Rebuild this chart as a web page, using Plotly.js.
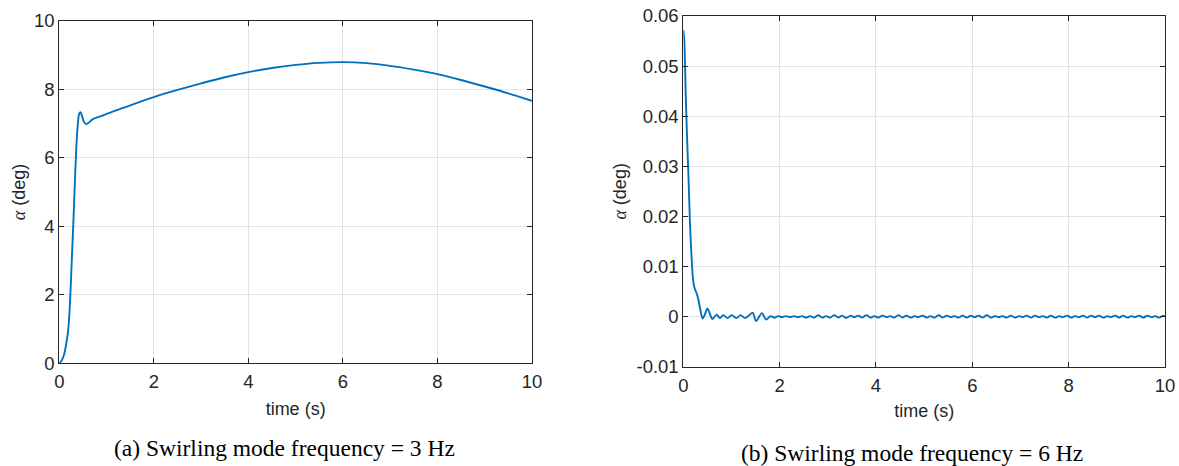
<!DOCTYPE html>
<html>
<head>
<meta charset="utf-8">
<script src="https://cdn.plot.ly/plotly-3.0.1.min.js"></script>
<style>html,body{margin:0;padding:0;background:#fff}#plot{width:1179px;height:466px}</style>
</head>
<body>
<div id="plot"></div>
<script>
// (a) Swirling mode frequency = 3 Hz
const timeA = [0, 0.05, 0.10, 0.15, 0.19, 0.22, 0.24, 0.27, 0.30, 0.33, 0.36, 0.39, 0.42, 0.45, 0.48, 0.52, 0.57, 0.62, 0.70, 0.80, 0.90, 1.0, 1.5, 2.0, 2.5, 3.0, 3.5, 4.0, 4.5, 5.0, 5.5, 6.0, 6.5, 7.0, 7.5, 8.0, 8.5, 9.0, 9.5, 10];
const alphaA = [0, 0.08, 0.25, 0.6, 1.0, 1.6, 2.2, 3.2, 4.2, 5.3, 6.3, 6.95, 7.28, 7.33, 7.22, 7.05, 6.98, 7.02, 7.12, 7.18, 7.22, 7.28, 7.53, 7.77, 7.98, 8.17, 8.35, 8.50, 8.62, 8.71, 8.77, 8.79, 8.76, 8.68, 8.57, 8.44, 8.27, 8.08, 7.88, 7.66];

// (b) Swirling mode frequency = 6 Hz
const timeB = [0, 0.02, 0.05, 0.08, 0.11, 0.14, 0.17, 0.20, 0.23, 0.27, 0.31, 0.35, 0.40, 0.45, 0.50, 0.55, 0.60, 0.69, 0.76, 0.83, 0.92, 1.00, 1.10, 1.19, 1.28, 1.36, 1.44, 1.51, 1.63, 1.72, 1.81, 1.89,
  1.97, 2.05, 2.13, 2.22, 2.30, 2.38, 2.47, 2.55, 2.63, 2.72, 2.80, 2.88, 2.97, 3.05, 3.13, 3.22, 3.30, 3.38, 3.47, 3.55, 3.63, 3.72, 3.80, 3.88, 3.97,
  4.05, 4.13, 4.22, 4.30, 4.38, 4.47, 4.55, 4.63, 4.72, 4.80, 4.88, 4.97, 5.05, 5.13, 5.22, 5.30, 5.38, 5.47, 5.55, 5.63, 5.72, 5.80, 5.88, 5.97,
  6.05, 6.13, 6.22, 6.30, 6.38, 6.47, 6.55, 6.63, 6.72, 6.80, 6.88, 6.97, 7.05, 7.13, 7.22, 7.30, 7.38, 7.47, 7.55, 7.63, 7.72, 7.80, 7.88, 7.97,
  8.05, 8.13, 8.22, 8.30, 8.38, 8.47, 8.55, 8.63, 8.72, 8.80, 8.88, 8.97, 9.05, 9.13, 9.22, 9.30, 9.38, 9.47, 9.55, 9.63, 9.72, 9.80, 9.88, 9.97, 10.0];
const alphaB = [0.0572, 0.0550, 0.0440, 0.0350, 0.0270, 0.0180, 0.0120, 0.0075, 0.0058, 0.0048, 0.0035, 0.0015, -0.0004, 0.0005, 0.0016, 0.0006, -0.0005, 0.0004, -0.0003, 0.0003, -0.0003, 0.0003, -0.0003, 0.0003, -0.0003, 0.0002, 0.0008, -0.0009, 0.0007, -0.0006, 0.0001, -0.0002,
  0.0001, -0.0001, 0.0001, -0.0001, 0.0001, -0.0001, 0.0001, -0.0002, 0.0001, -0.0002, 0.0003, -0.0002, 0.0001, -0.0002, 0.0003, -0.0002, 0.0002, -0.0003, 0.0002, -0.0001, 0.0002, -0.0002, 0.0003, -0.0002, 0.0001,
  -0.0002, 0.0002, -0.0001, 0.0001, -0.0002, 0.0003, -0.0002, 0.0002, -0.0002, 0.0001, -0.0001, 0.0002, -0.0002, 0.0001, -0.0002, 0.0003, -0.0002, 0.0002, -0.0001, 0.0001, -0.0002, 0.0002, -0.0002, 0.0002,
  -0.0001, 0.0002, -0.0002, 0.0003, -0.0002, 0.0001, -0.0001, 0.0001, -0.0002, 0.0002, -0.0002, 0.0001, -0.0001, 0.0002, -0.0002, 0.0002, -0.0001, 0.0001, -0.0002, 0.0002, -0.0002, 0.0001, -0.0001, 0.0002,
  -0.0002, 0.0001, -0.0001, 0.0002, -0.0002, 0.0002, -0.0001, 0.0002, -0.0002, 0.0001, -0.0001, 0.0002, -0.0002, 0.0002, -0.0002, 0.0001, -0.0001, 0.0002, -0.0002, 0.0002, -0.0001, 0.0001, -0.0002, 0.0002, -0.0001, 0.0000];

const xTicks = [0, 2, 4, 6, 8, 10];
const yTicksA = [0, 2, 4, 6, 8, 10];
const yTicksB = [-0.01, 0, 0.01, 0.02, 0.03, 0.04, 0.05, 0.06];
const yTickTextB = ['-0.01', '0', '0.01', '0.02', '0.03', '0.04', '0.05', '0.06'];
const xTitle = 'time (s)';
const yTitle = '<i style="font-family:\'Liberation Serif\'">α</i> (deg)';
const captionA = '(a) Swirling mode frequency = 3 Hz';
const captionB = '(b) Swirling mode frequency = 6 Hz';

const lineColor = '#0072BD';
const axColor = '#262626';
const sans = 'Liberation Sans, Arial, sans-serif';
const tickFont = {family: sans, size: 18.5, color: axColor};
const titleFont = {family: sans, size: 18, color: axColor};

function axisBase(domain, anchor) {
  return {
    domain: domain, anchor: anchor,
    showline: true, mirror: 'ticks', linecolor: axColor, linewidth: 1,
    ticks: 'inside', ticklen: 5, tickcolor: axColor, tickwidth: 1,
    showgrid: true, gridcolor: '#e3e3e3', gridwidth: 1,
    zeroline: false, tickfont: tickFont
  };
}

const traces = [
  {x: timeA, y: alphaA, xaxis: 'x', yaxis: 'y', type: 'scatter', mode: 'lines',
   line: {color: lineColor, width: 1.9, shape: 'spline', smoothing: 0.8}, hoverinfo: 'skip'},
  {x: timeB, y: alphaB, xaxis: 'x2', yaxis: 'y2', type: 'scatter', mode: 'lines',
   line: {color: lineColor, width: 1.9, shape: 'spline', smoothing: 0.8}, hoverinfo: 'skip'}
];

const layout = {
  width: 1179, height: 466,
  margin: {l: 0, r: 0, t: 0, b: 0},
  paper_bgcolor: '#fff', plot_bgcolor: '#fff',
  showlegend: false,
  xaxis: Object.assign(axisBase([0.0503, 0.4512], 'y'), {
    range: [0, 10], tickvals: xTicks, ticktext: xTicks.map(String), ticklabelstandoff: 2,
    title: {text: xTitle, font: titleFont, standoff: 10}
  }),
  yaxis: Object.assign(axisBase([0.2204, 0.9556], 'x'), {
    range: [0, 10], tickvals: yTicksA, ticktext: yTicksA.map(String),
    title: {text: yTitle, font: titleFont, standoff: 3}
  }),
  xaxis2: Object.assign(axisBase([0.5796, 0.9881], 'y2'), {
    range: [0, 10], tickvals: xTicks, ticktext: xTicks.map(String), ticklabelstandoff: 2,
    title: {text: xTitle, font: titleFont, standoff: 9}
  }),
  yaxis2: Object.assign(axisBase([0.2131, 0.9657], 'x2'), {
    range: [-0.01, 0.06], tickvals: yTicksB, ticktext: yTickTextB,
    title: {text: yTitle, font: titleFont, standoff: 5}
  }),
  annotations: [
    {text: captionA, xref: 'paper', yref: 'paper', x: 284 / 1179, y: 1 - 448 / 466, xanchor: 'center', yanchor: 'middle',
     showarrow: false, font: {family: 'Liberation Serif, Times New Roman, serif', size: 23.5, color: '#000'}},
    {text: captionB, xref: 'paper', yref: 'paper', x: 912 / 1179, y: 1 - 453 / 466, xanchor: 'center', yanchor: 'middle',
     showarrow: false, font: {family: 'Liberation Serif, Times New Roman, serif', size: 23.5, color: '#000'}}
  ]
};

Plotly.newPlot('plot', traces, layout, {staticPlot: true, displayModeBar: false});
</script>
</body>
</html>
